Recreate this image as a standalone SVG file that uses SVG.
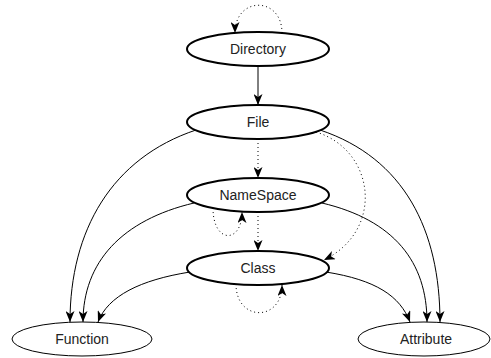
<svg xmlns="http://www.w3.org/2000/svg" width="491" height="358" viewBox="0 0 491 358">
<style>
.node ellipse{fill:#fff;stroke:#000}
.bold ellipse{stroke-width:2}
.thin ellipse{stroke-width:1}
text{font-family:"Liberation Sans",Arial,sans-serif;font-size:14px;fill:#222;text-anchor:middle}
.e{fill:none;stroke:#000;stroke-width:1;marker-end:url(#ah)}
.d{stroke-dasharray:1,3}
</style>
<defs>
<marker id="ah" viewBox="0 0 11 9" refX="11" refY="4.5" markerWidth="11" markerHeight="9" markerUnits="userSpaceOnUse" orient="auto">
<path d="M0,0 L11,4.5 L0,9 L3,4.5 z" fill="#000"/>
</marker>
</defs>
<g id="edges">
<path class="e d" d="M282,33 C282,-4 235,-4 235,33"/>
<path class="e" d="M258,66 L258,105"/>
<path class="e d" d="M258,139 L258,178"/>
<path class="e d" d="M316,132 C375,150 385,230 324,260"/>
<path class="e" d="M196,130 C112,158 70,230 70,322"/>
<path class="e" d="M320,130 C404,158 440,230 440,322"/>
<path class="e d" d="M258,212 L258,251"/>
<path class="e d" d="M213,208 C213,244 242,244 242,212"/>
<path class="e" d="M194,203 C122,220 83,262 83,322"/>
<path class="e" d="M322,203 C394,220 427,262 427,322"/>
<path class="e d" d="M236,284 C236,322 282,322 282,285"/>
<path class="e" d="M190,272 C140,280 108,296 98,322"/>
<path class="e" d="M326,272 C376,280 400,296 410,322"/>
</g>
<g id="Directory" class="node bold"><ellipse cx="258" cy="49" rx="71" ry="17"/><text x="258" y="54">Directory</text></g>
<g id="File" class="node bold"><ellipse cx="258" cy="122" rx="71" ry="17"/><text x="258" y="127">File</text></g>
<g id="NameSpace" class="node bold"><ellipse cx="258" cy="195" rx="71" ry="17"/><text x="258" y="200">NameSpace</text></g>
<g id="Class" class="node bold"><ellipse cx="258" cy="268" rx="71" ry="17"/><text x="258" y="273">Class</text></g>
<g id="Function" class="node thin"><ellipse cx="82" cy="339" rx="70" ry="17"/><text x="82" y="344">Function</text></g>
<g id="Attribute" class="node thin"><ellipse cx="424" cy="339" rx="66" ry="17"/><text x="426" y="344">Attribute</text></g>
</svg>
